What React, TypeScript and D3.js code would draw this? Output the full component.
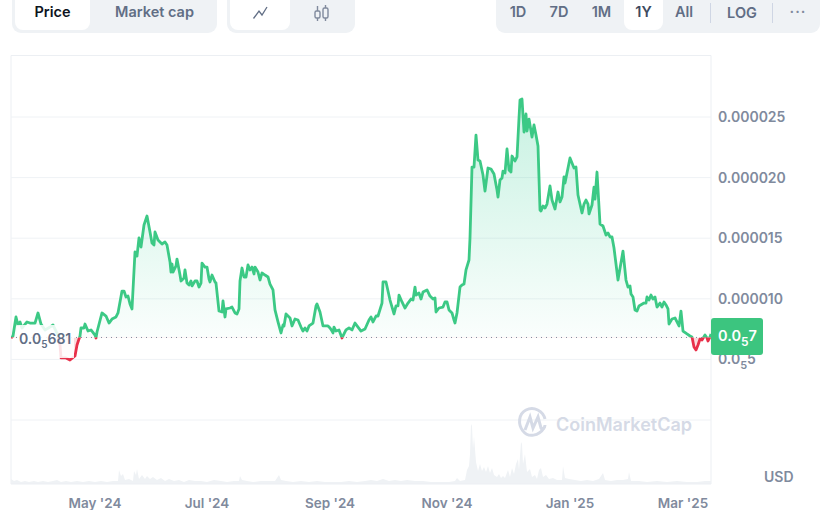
import React from "react";
import * as d3 from "d3";

// Each point is [chart step from the left edge of the year-long window, price in millionths of a USD].
const pricesSpring: [number, number][] = [
  [0, 6.77], [2, 6.93], [5, 8.5], [7, 7.84], [9, 8.09], [11, 7.59], [16, 8.09], [19, 8.0], [24, 8.0], [27, 8.83], [30, 7.92], [34, 7.43], [39, 7.67], [42, 7.84], [45, 7.34], [47, 7.01], [49, 6.19], [50, 5.12], [55, 5.12], [59, 4.95], [64, 5.28], [66, 6.19], [69, 6.93], [70, 7.59], [73, 7.59], [74, 7.92], [77, 7.34], [80, 7.43], [84, 7.01], [85, 6.77], [86, 7.26], [91, 8.83], [95, 8.58], [98, 8.0], [101, 8.33], [105, 8.5], [107, 8.83], [111, 10.64], [113, 10.64], [115, 10.15], [117, 10.23], [119, 9.57], [121, 9.16], [124, 13.86], [126, 13.53], [128, 15.02], [130, 14.27], [133, 16.09], [136, 16.83], [139, 15.51], [141, 14.6], [143, 14.44], [144, 15.51], [147, 14.85], [151, 14.52], [154, 14.69], [156, 14.44], [159, 13.04], [160, 12.21], [161, 12.87], [162, 12.21], [165, 12.71], [166, 13.28], [169, 11.96], [170, 11.47], [173, 11.72], [174, 12.38], [176, 11.3], [178, 11.14], [180, 11.47], [181, 11.06], [184, 11.47], [186, 11.47], [188, 10.97], [190, 11.3], [191, 12.95], [194, 12.62], [196, 12.62], [198, 11.63], [199, 11.39], [201, 11.96], [204, 11.39], [205, 11.3], [208, 8.99], [211, 8.91], [212, 9.82], [214, 8.5], [215, 9.16], [219, 9.24], [221, 9.32], [224, 8.83], [226, 8.75], [228, 9.16], [229, 11.47], [231, 12.54], [233, 11.8], [235, 11.8], [237, 12.79], [239, 12.38], [241, 12.62], [243, 12.05], [244, 12.62], [247, 12.21], [249, 11.55], [251, 12.13], [254, 11.96], [257, 11.8], [259, 11.22], [262, 10.73], [264, 9.08], [267, 8.09], [270, 7.18], [272, 7.84], [273, 7.76], [275, 8.75], [279, 8.42], [281, 7.76],
];
const pricesAutumn: [number, number][] = [
  [284, 8.33], [287, 8.25], [290, 7.67], [292, 7.34], [294, 7.59], [296, 7.34], [298, 7.76], [302, 8.0], [305, 9.41], [306, 9.57], [309, 8.91], [312, 7.76], [317, 7.76], [319, 7.59], [321, 7.34], [322, 7.18], [323, 7.67], [325, 7.34], [328, 7.43], [331, 6.77], [335, 7.43], [338, 7.59], [341, 7.43], [344, 8.0], [347, 7.67], [350, 7.34], [354, 7.51], [358, 8.25], [360, 8.5], [362, 8.09], [365, 8.58], [367, 8.58], [371, 9.65], [372, 11.39], [375, 11.39], [379, 9.9], [383, 8.75], [385, 9.41], [387, 9.41], [388, 10.31], [391, 9.74], [394, 9.24], [397, 9.65], [400, 9.98], [402, 9.9], [404, 10.97], [405, 10.31], [408, 10.48], [410, 9.98], [412, 10.56], [416, 10.73], [419, 10.23], [422, 9.98], [424, 10.07], [425, 8.91], [428, 9.24], [432, 9.32], [434, 9.74], [436, 9.74], [438, 9.08], [441, 8.83], [443, 8.25], [444, 8.0], [446, 8.83], [449, 10.97], [451, 11.14], [453, 11.22], [455, 12.38], [458, 13.2],
];
const pricesWinter: [number, number][] = [
  [459, 15.02], [461, 20.87], [463, 20.87], [465, 23.51], [467, 21.45], [469, 21.37], [472, 20.21], [474, 18.89], [477, 20.79], [480, 20.71], [483, 20.3], [486, 18.98], [487, 18.4], [489, 19.8], [491, 19.97], [492, 20.54], [494, 20.38], [496, 22.36], [498, 20.63], [500, 20.46], [501, 21.78], [504, 21.37], [506, 21.7], [508, 24.92], [509, 26.4], [511, 26.48], [513, 23.76], [515, 25.25], [516, 23.84], [518, 24.83], [521, 23.35], [523, 24.34], [525, 23.51], [527, 22.61], [529, 17.33], [530, 17.24], [532, 17.66], [534, 17.49], [536, 17.82], [539, 19.31], [541, 18.15], [544, 17.41], [547, 18.81], [549, 17.99], [551, 18.4], [553, 20.05], [554, 19.55], [559, 21.62], [563, 20.79], [565, 20.87], [567, 18.56], [571, 17.08], [573, 17.82], [575, 18.15], [577, 17.82], [578, 17.0], [581, 17.74], [583, 19.22], [584, 18.23], [586, 20.46], [589, 16.17], [592, 16.01], [595, 15.26], [597, 15.43], [599, 15.1], [601, 15.1], [603, 14.19], [607, 11.55], [612, 13.94], [615, 11.55], [617, 10.97], [619, 11.06], [620, 10.4], [622, 10.15], [624, 9.08], [626, 8.99], [628, 9.41], [633, 9.65], [635, 9.65], [636, 10.15], [638, 9.9], [640, 10.31], [642, 9.98], [644, 10.15], [646, 9.32], [649, 9.65], [651, 9.32], [653, 9.74], [655, 9.49], [657, 9.16], [658, 7.92], [661, 8.33], [664, 8.42], [668, 7.76], [670, 8.99], [672, 7.34], [676, 7.1], [679, 6.93], [681, 6.85], [683, 6.02], [685, 5.78], [687, 6.19], [689, 6.68], [691, 6.6], [694, 7.01], [696, 6.77], [697, 6.52], [699, 6.85], [700, 7.1],
];
const openPrice = 6.81;

// Each point is [chart step, volume in arbitrary units].
const volumePoints: [number, number][] = [
  [0, 5], [3, 3], [6, 4], [10, 2], [14, 3], [18, 2], [23, 3], [27, 2], [32, 3], [37, 2], [42, 3], [46, 4], [50, 2], [55, 3], [60, 2], [66, 3], [72, 2], [78, 3], [84, 2], [90, 3], [96, 2], [102, 3], [107, 3], [108, 14], [110, 8], [112, 10], [114, 4], [118, 5], [122, 3], [123, 13], [125, 9], [126, 15], [128, 5], [131, 9], [134, 5], [136, 8], [139, 5], [142, 7], [146, 4], [150, 6], [154, 3], [158, 5], [163, 3], [168, 4], [173, 2], [178, 4], [184, 3], [190, 3], [196, 2], [203, 4], [210, 3], [216, 2], [223, 3], [228, 3], [229, 8], [231, 4], [236, 3], [242, 2], [250, 3], [258, 3], [264, 3], [268, 9], [270, 4], [275, 3], [282, 2], [290, 3], [298, 2], [306, 3], [314, 2], [322, 2], [330, 2], [338, 3], [346, 2], [354, 3], [360, 4], [366, 3], [372, 5], [378, 3], [384, 4], [390, 3], [396, 4], [404, 3], [412, 3], [420, 2], [430, 2], [438, 2], [444, 3], [446, 6], [449, 3], [454, 4], [456, 14], [458, 18], [459, 30], [460, 60], [461, 58], [462, 35], [463, 48], [465, 22], [467, 13], [469, 20], [471, 13], [473, 17], [475, 12], [477, 18], [479, 11], [481, 16], [483, 9], [486, 7], [488, 10], [490, 6], [492, 8], [494, 6], [497, 14], [499, 7], [501, 16], [503, 10], [505, 20], [507, 25], [508, 14], [510, 42], [511, 40], [512, 20], [514, 30], [516, 12], [519, 15], [521, 7], [524, 9], [526, 5], [528, 14], [530, 16], [532, 7], [535, 9], [538, 5], [542, 6], [546, 4], [551, 4], [552, 18], [554, 6], [558, 5], [564, 4], [570, 3], [576, 4], [582, 3], [588, 5], [592, 11], [594, 4], [600, 3], [606, 4], [612, 4], [617, 5], [618, 12], [620, 3], [628, 3], [636, 2], [646, 3], [656, 2], [666, 3], [676, 2], [686, 2], [694, 3], [700, 3],
];

const yTicks = [0.000025, 0.00002, 0.000015, 0.00001];
const gridValues = [25, 20, 15, 10, 5, 0];
const xLabels = ["May '24", "Jul '24", "Sep '24", "Nov '24", "Jan '25", "Mar '25"];
const xLabelSteps = [84, 196, 319, 436, 559, 672];
const metricTabs = ["Price", "Market cap"];
const rangeTabs = ["1D", "7D", "1M", "1Y", "All"];

const x = d3.scaleLinear().domain([0, 700]).range([11, 711]);
const y = d3.scaleLinear().domain([0, 25]).range([420, 117]);
const vol = d3.scaleLinear().domain([0, 60]).range([484, 424]);

const FONT = "Inter, 'Noto Sans', sans-serif";
const GREEN = "#3cc985";
const RED = "#e8304a";
const GREY = "#808a9d";
const BG = "#eff2f5";

const series = [...pricesSpring, ...pricesAutumn, ...pricesWinter];

export default function App() {
  const base = y(openPrice);
  const line = d3.line<[number, number]>().x(d => x(d[0])).y(d => y(d[1]));
  const area = d3.area<[number, number]>().x(d => x(d[0])).y0(base).y1(d => y(d[1]));
  const volArea = d3.area<[number, number]>().x(d => x(d[0])).y0(vol(0)).y1(d => vol(d[1]));
  const tick = { fontFamily: FONT, fontSize: 14, fontWeight: 600, fill: GREY } as const;

  return (
    <svg width={833} height={510} style={{ position: "absolute", left: 0, top: 0, background: "#fff" }} fontFamily={FONT}>
      <defs>
        <linearGradient id="gUp" gradientUnits="userSpaceOnUse" x1={0} x2={0} y1={y(26.5)} y2={base}>
          <stop offset="0" stopColor="#16c784" stopOpacity={0.24} />
          <stop offset="1" stopColor="#16c784" stopOpacity={0.02} />
        </linearGradient>
        <linearGradient id="gDown" gradientUnits="userSpaceOnUse" x1={0} x2={0} y1={base} y2={y(4.9)}>
          <stop offset="0" stopColor="#ea3943" stopOpacity={0.2} />
          <stop offset="1" stopColor="#ea3943" stopOpacity={0.05} />
        </linearGradient>
        <clipPath id="above"><rect x={x(0)} y={0} width={x(700) - x(0)} height={base} /></clipPath>
        <clipPath id="below"><rect x={x(0)} y={base} width={x(700) - x(0)} height={484 - base} /></clipPath>
      </defs>

      {/* tabs */}
      <rect x={12} y={-10} width={205} height={43} rx={9} fill={BG} />
      <rect x={15} y={-10} width={75} height={40} rx={8} fill="#fff" />
      <text x={52.5} y={17} textAnchor="middle" fontSize={14.5} fontWeight={600} fill="#0d1421">{metricTabs[0]}</text>
      <text x={154.5} y={17} textAnchor="middle" fontSize={14.5} fontWeight={600} fill="#616e85">{metricTabs[1]}</text>

      <rect x={227} y={-10} width={128} height={43} rx={9} fill={BG} />
      <rect x={230} y={-10} width={60} height={40} rx={8} fill="#fff" />
      <path d="M253.5 18.5 L259 11 L262 15 L267 7" fill="none" stroke="#616e85" strokeWidth={1.3} />
      <g fill="none" stroke="#808a9d" strokeWidth={1.4}>
        <rect x={315} y={11} width={5} height={7} rx={1.5} />
        <rect x={323} y={8} width={5} height={10} rx={1.5} />
        <path d="M317.5 6 V11 M317.5 18 V21 M325.5 5 V8 M325.5 18 V21" />
      </g>

      <rect x={496} y={-10} width={324} height={43} rx={9} fill={BG} />
      <rect x={624} y={-10} width={39} height={40} rx={8} fill="#fff" />
      {rangeTabs.map((t, i) => (
        <text key={t} x={[518, 559, 601.5, 643.5, 684][i]} y={17} textAnchor="middle" fontSize={14.5} fontWeight={600} fill={t === "1Y" ? "#3d4a60" : "#616e85"}>{t}</text>
      ))}
      <line x1={710.5} x2={710.5} y1={3} y2={23} stroke="#cfd6e4" />
      <text x={742} y={18} textAnchor="middle" fontSize={14.5} fontWeight={600} fill="#616e85">LOG</text>
      <line x1={772.5} x2={772.5} y1={3} y2={23} stroke="#cfd6e4" />
      <text x={798} y={17} textAnchor="middle" fontSize={14.5} fontWeight={600} fill="#808a9d" letterSpacing={1}>···</text>

      {/* frame and grid */}
      <path d={`M11 484 V55.5 H711 V484`} fill="none" stroke="#eceff3" />
      {gridValues.map(v => (
        <line key={v} x1={11} x2={711} y1={y(v)} y2={y(v)} stroke="#eff2f5" strokeWidth={1} />
      ))}

      {/* watermark */}
      <g fill="none" stroke="#d5dae6" strokeWidth={3}>
        <path d="M544 428 C539 436 528 438 523 431 C518 425 518 414 526 410 C534 406 543 411 545 419" />
        <path d="M525 430 L530 417 L533 428 L538 417 L541 428 C542 430 545 428 545 425" />
      </g>
      <text x={556} y={431} fontSize={18} fontWeight={600} fill="#d5dae6">CoinMarketCap</text>

      {/* volume */}
      <path d={volArea(volumePoints) ?? ""} fill="#eff2f5" />
      <line x1={11} x2={711} y1={484} y2={484} stroke="#eceff3" />

      {/* price */}
      <path d={area(series) ?? ""} fill="url(#gUp)" clipPath="url(#above)" />
      <path d={area(series) ?? ""} fill="url(#gDown)" clipPath="url(#below)" />
      <line x1={11} x2={711} y1={base} y2={base} stroke="#808a9d" strokeWidth={1} strokeDasharray="1 4" />
      <path d={line(series) ?? ""} fill="none" stroke={GREEN} strokeWidth={2.8} strokeLinejoin="round" clipPath="url(#above)" />
      <path d={line(series) ?? ""} fill="none" stroke={RED} strokeWidth={2.8} strokeLinejoin="round" clipPath="url(#below)" />

      {/* open price label */}
      <rect x={17} y={325} width={57} height={33} fill="#fff" opacity={0.86} />
      <text x={19} y={344} fontSize={14} fontWeight={600} fill="#616e85">
        0.0<tspan fontSize={10} dy={4}>5</tspan><tspan dy={-4}>681</tspan>
      </text>

      {/* y axis */}
      {yTicks.map(v => (
        <text key={v} x={718} y={y(v * 1e6) + 5} {...tick}>{v.toFixed(6)}</text>
      ))}
      <text x={718} y={y(5) + 5} {...tick}>
        0.0<tspan fontSize={11} dy={5}>5</tspan><tspan dy={-5}>5</tspan>
      </text>
      <rect x={711} y={318} width={52} height={37} rx={3} fill="#3cc57f" />
      <text x={718} y={341} fontSize={14.5} fontWeight={600} fill="#fff">
        0.0<tspan fontSize={12} dy={5}>5</tspan><tspan dy={-5}>7</tspan>
      </text>
      <text x={764} y={482} {...tick}>USD</text>

      {/* x axis */}
      {xLabels.map((t, i) => (
        <text key={t} x={x(xLabelSteps[i])} y={508} textAnchor="middle" {...tick} fontSize={13.5}>{t}</text>
      ))}
    </svg>
  );
}
